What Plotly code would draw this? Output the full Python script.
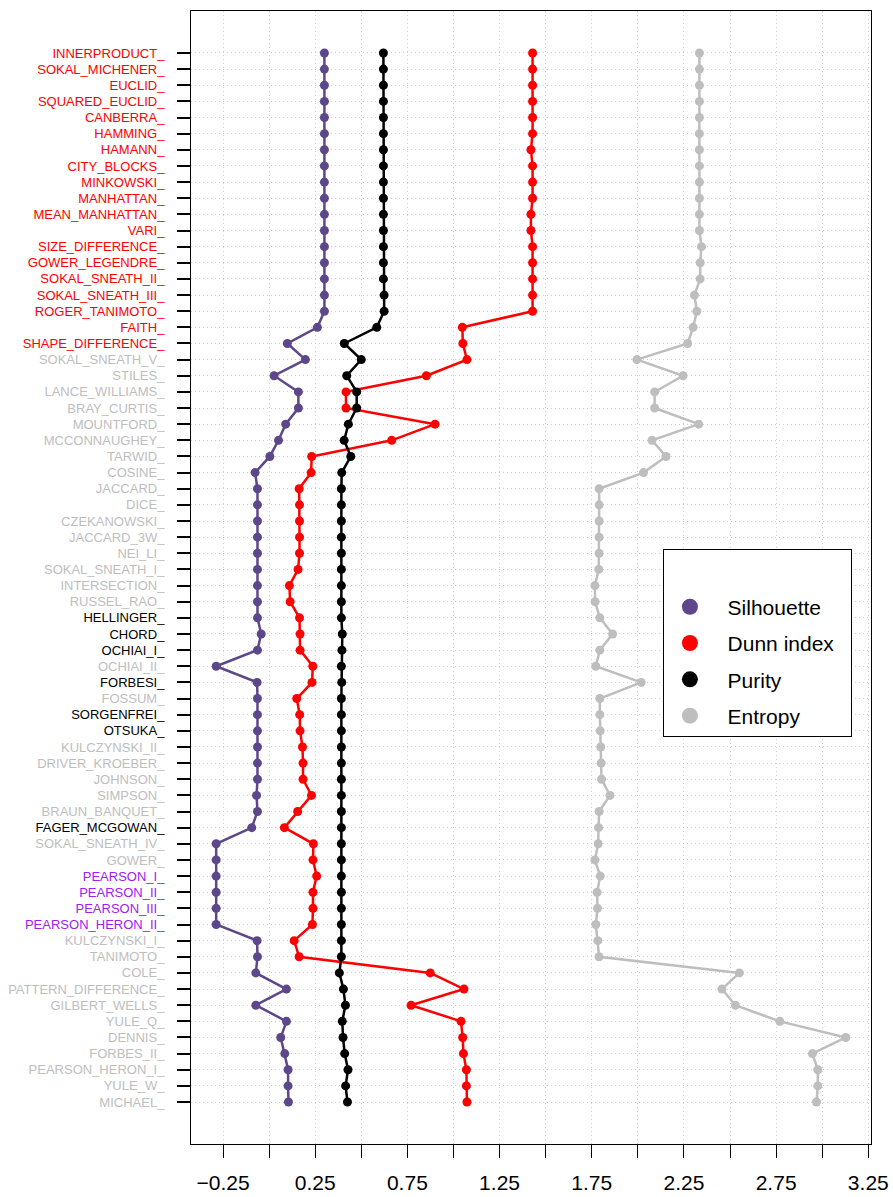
import plotly.graph_objects as go

categories = [
    "INNERPRODUCT_", "SOKAL_MICHENER_", "EUCLID_", "SQUARED_EUCLID_", "CANBERRA_",
    "HAMMING_", "HAMANN_", "CITY_BLOCKS_", "MINKOWSKI_", "MANHATTAN_",
    "MEAN_MANHATTAN_", "VARI_", "SIZE_DIFFERENCE_", "GOWER_LEGENDRE_", "SOKAL_SNEATH_II_",
    "SOKAL_SNEATH_III_", "ROGER_TANIMOTO_", "FAITH_", "SHAPE_DIFFERENCE_", "SOKAL_SNEATH_V_",
    "STILES_", "LANCE_WILLIAMS_", "BRAY_CURTIS_", "MOUNTFORD_", "MCCONNAUGHEY_",
    "TARWID_", "COSINE_", "JACCARD_", "DICE_", "CZEKANOWSKI_",
    "JACCARD_3W_", "NEI_LI_", "SOKAL_SNEATH_I_", "INTERSECTION_", "RUSSEL_RAO_",
    "HELLINGER_", "CHORD_", "OCHIAI_I_", "OCHIAI_II_", "FORBESI_",
    "FOSSUM_", "SORGENFREI_", "OTSUKA_", "KULCZYNSKI_II_", "DRIVER_KROEBER_",
    "JOHNSON_", "SIMPSON_", "BRAUN_BANQUET_", "FAGER_MCGOWAN_", "SOKAL_SNEATH_IV_",
    "GOWER_", "PEARSON_I_", "PEARSON_II_", "PEARSON_III_", "PEARSON_HERON_II_",
    "KULCZYNSKI_I_", "TANIMOTO_", "COLE_", "PATTERN_DIFFERENCE_", "GILBERT_WELLS_",
    "YULE_Q_", "DENNIS_", "FORBES_II_", "PEARSON_HERON_I_", "YULE_W_",
    "MICHAEL_",
]

silhouette = [
    0.300, 0.300, 0.300, 0.300, 0.300, 0.300, 0.300, 0.300, 0.300, 0.300,
    0.300, 0.300, 0.300, 0.300, 0.300, 0.300, 0.300, 0.262, 0.099, 0.197,
    0.027, 0.159, 0.159, 0.090, 0.051, 0.004, -0.076, -0.063, -0.063, -0.063,
    -0.063, -0.063, -0.063, -0.063, -0.063, -0.063, -0.043, -0.063, -0.287, -0.065,
    -0.063, -0.063, -0.063, -0.063, -0.063, -0.063, -0.068, -0.063, -0.094, -0.287,
    -0.287, -0.287, -0.287, -0.287, -0.287, -0.065, -0.063, -0.072, 0.094, -0.072,
    0.094, 0.063, 0.085, 0.103, 0.103, 0.105,
]

dunn = [
    1.429, 1.429, 1.429, 1.429, 1.429, 1.429, 1.420, 1.429, 1.429, 1.429,
    1.420, 1.420, 1.429, 1.429, 1.429, 1.429, 1.429, 1.048, 1.051, 1.073,
    0.853, 0.417, 0.417, 0.900, 0.665, 0.231, 0.228, 0.163, 0.165, 0.165,
    0.165, 0.165, 0.157, 0.110, 0.114, 0.165, 0.168, 0.168, 0.237, 0.233,
    0.150, 0.166, 0.168, 0.181, 0.184, 0.184, 0.230, 0.155, 0.083, 0.240,
    0.238, 0.258, 0.238, 0.238, 0.235, 0.136, 0.163, 0.874, 1.057, 0.770,
    1.041, 1.050, 1.054, 1.070, 1.070, 1.073,
]

purity = [
    0.620, 0.620, 0.620, 0.620, 0.620, 0.620, 0.620, 0.620, 0.620, 0.620,
    0.620, 0.620, 0.620, 0.620, 0.620, 0.624, 0.624, 0.584, 0.408, 0.500,
    0.421, 0.475, 0.475, 0.430, 0.407, 0.443, 0.394, 0.392, 0.392, 0.392,
    0.392, 0.392, 0.392, 0.392, 0.392, 0.392, 0.397, 0.395, 0.392, 0.394,
    0.392, 0.392, 0.392, 0.392, 0.392, 0.392, 0.392, 0.392, 0.392, 0.392,
    0.392, 0.392, 0.392, 0.392, 0.392, 0.392, 0.392, 0.381, 0.403, 0.414,
    0.397, 0.401, 0.410, 0.428, 0.415, 0.425,
]

entropy = [
    2.334, 2.334, 2.334, 2.334, 2.334, 2.334, 2.334, 2.334, 2.334, 2.334,
    2.334, 2.334, 2.345, 2.338, 2.338, 2.307, 2.320, 2.300, 2.270, 1.995,
    2.245, 2.091, 2.091, 2.330, 2.077, 2.153, 2.031, 1.790, 1.790, 1.790,
    1.790, 1.790, 1.788, 1.767, 1.768, 1.794, 1.863, 1.794, 1.772, 2.018,
    1.794, 1.794, 1.796, 1.799, 1.801, 1.803, 1.849, 1.790, 1.787, 1.785,
    1.767, 1.796, 1.779, 1.781, 1.772, 1.783, 1.790, 2.551, 2.456, 2.529,
    2.770, 3.128, 2.947, 2.976, 2.976, 2.969,
]

x_tick_values = [-0.25, 0.0, 0.25, 0.5, 0.75, 1.0, 1.25, 1.5, 1.75, 2.0, 2.25, 2.5, 2.75, 3.0, 3.25]
x_tick_labels = ["\u22120.25", "", "0.25", "", "0.75", "", "1.25", "", "1.75", "", "2.25", "", "2.75", "", "3.25"]

series_names = ["Silhouette", "Dunn index", "Purity", "Entropy"]

# label colour groups
red_labels = set(categories[:19])
black_labels = {"HELLINGER_", "CHORD_", "OCHIAI_I_", "FORBESI_", "SORGENFREI_", "OTSUKA_", "FAGER_MCGOWAN_"}
purple_labels = {"PEARSON_I_", "PEARSON_II_", "PEARSON_III_", "PEARSON_HERON_II_"}

series_colors = {"Silhouette": "#5D478B", "Dunn index": "#FF0000", "Purity": "#000000", "Entropy": "#BEBEBE"}
FONT = "Liberation Sans, Arial, Helvetica, sans-serif"


def label_color(name):
    if name in red_labels:
        return "#FF0000"
    if name in black_labels:
        return "#000000"
    if name in purple_labels:
        return "#A020F0"
    return "#BEBEBE"


positions = list(range(1, len(categories) + 1))
tick_text = ['<span style="color:%s">%s</span>' % (label_color(c), c) for c in categories]

fig = go.Figure()
values = {"Silhouette": silhouette, "Dunn index": dunn, "Purity": purity, "Entropy": entropy}
for name in series_names:
    fig.add_trace(go.Scatter(
        x=values[name], y=positions, mode="lines+markers",
        line=dict(color=series_colors[name], width=2.5),
        marker=dict(color=series_colors[name], size=9),
        showlegend=False, hoverinfo="x+y",
    ))
for name in series_names:
    fig.add_trace(go.Scatter(
        x=[None], y=[None], mode="markers",
        marker=dict(color=series_colors[name], size=16),
        name="\u00a0\u00a0" + name + "\u00a0\u00a0",
        legendgroup=name, showlegend=True,
    ))

all_x = silhouette + dunn + purity + entropy
xmin, xmax = min(all_x), max(all_x)
pad = 0.04 * (xmax - xmin)
n = len(categories)
ypad = 0.04 * (n - 1)

grid_dash = "1px,3px"

fig.update_layout(
    width=893, height=1197,
    margin=dict(l=191, r=22, t=11, b=53),
    paper_bgcolor="white", plot_bgcolor="white",
    font=dict(family=FONT, color="black"),
    xaxis=dict(
        range=[xmin - pad, xmax + pad], automargin=False,
        tickmode="array", tickvals=x_tick_values, ticktext=x_tick_labels,
        ticks="outside", ticklen=13, tickwidth=1, tickcolor="black",
        tickfont=dict(size=21, family=FONT, color="black"),
        ticklabelstandoff=7,
        showline=True, linecolor="black", linewidth=1, mirror=True,
        showgrid=True, gridcolor="#CFCFCF", griddash=grid_dash, gridwidth=1,
        zeroline=False,
    ),
    yaxis=dict(
        range=[n + ypad, 1 - ypad], automargin=False,
        tickmode="array", tickvals=positions, ticktext=tick_text,
        ticks="outside", ticklen=13, tickwidth=1.5, tickcolor="black",
        tickfont=dict(size=13, family=FONT),
        ticklabelstandoff=10,
        showline=True, linecolor="black", linewidth=1, mirror=True,
        showgrid=True, gridcolor="#CFCFCF", griddash=grid_dash, gridwidth=1,
        zeroline=False,
    ),
    legend=dict(
        x=0.694, y=0.525, xanchor="left", yanchor="top",
        bordercolor="black", borderwidth=1, bgcolor="white",
        font=dict(size=21, family=FONT, color="black"),
        traceorder="grouped", tracegroupgap=6, itemwidth=42,
        title=dict(text="\u00a0", font=dict(size=28)),
    ),
)

fig.write_html("out.html")
